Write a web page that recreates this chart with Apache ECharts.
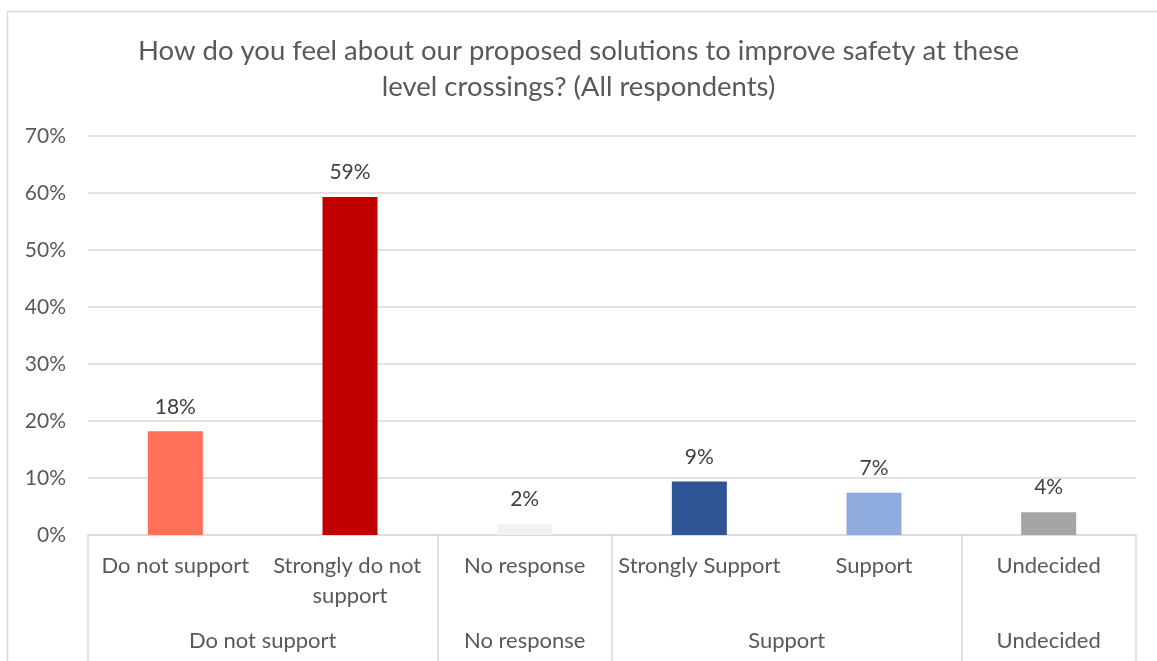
<!DOCTYPE html>
<html>
<head>
<meta charset="utf-8">
<script src="https://cdn.jsdelivr.net/npm/echarts@6/dist/echarts.min.js"></script>
<style>
html,body{margin:0;padding:0;background:#fff;}
#c{width:1157px;height:661px;}
</style>
</head>
<body>
<div id="c"></div>
<script>
var titleText = 'How do you feel about our proposed solutions to improve safety at these\nlevel crossings? (All respondents)';
var categories = ['Do not support', 'Strongly do not support', 'No response', 'Strongly Support', 'Support', 'Undecided'];
var values = [18.2, 59.3, 1.9, 9.4, 7.4, 4.0];
var barColors = ['#FF7058', '#C00000', '#F2F2F2', '#2F5597', '#8FAADC', '#A5A5A5'];
var groups = ['Do not support', 'No response', 'Support', 'Undecided'];
var groupSizes = [2, 1, 2, 1];
var yTicks = [0, 10, 20, 30, 40, 50, 60, 70];

var FONT = 'Lato';
var TXT = '#595959';
var LINE = '#D9D9D9';

var tickPos = [0], labelPos = [], acc = 0;
groupSizes.forEach(function (s) { labelPos.push(acc + s / 2); acc += s; tickPos.push(acc); });

var chart = echarts.init(document.getElementById('c'), null, {renderer: 'canvas'});
chart.setOption({
  backgroundColor: '#fff',
  animation: false,
  graphic: [{
    type: 'polyline', silent: true,
    shape: {points: [[7.5, 700], [7.5, 11.5], [1200, 11.5]]},
    style: {stroke: LINE, lineWidth: 1.5, fill: null}
  }],
  title: {
    text: titleText, left: 'center', top: 28,
    textStyle: {fontFamily: FONT, fontSize: 27.5, fontWeight: 'normal', color: TXT, lineHeight: 36}
  },
  grid: {left: 88, right: 21, top: 136, bottom: 126, containLabel: false},
  xAxis: [{
    type: 'category', data: categories, position: 'bottom',
    axisLine: {show: true, lineStyle: {color: LINE, width: 1.5}},
    axisTick: {show: false},
    axisLabel: {
      interval: 0, margin: 16, color: TXT, fontFamily: FONT, fontSize: 22, lineHeight: 30,
      width: 168, overflow: 'break', align: 'center'
    }
  }, {
    type: 'value', min: 0, max: acc, position: 'bottom',
    splitLine: {show: false},
    axisLine: {show: false},
    axisTick: {show: true, customValues: tickPos, length: 126, lineStyle: {color: LINE, width: 1.5}},
    axisLabel: {
      show: true, customValues: labelPos, margin: 95, color: TXT, fontFamily: FONT, fontSize: 22,
      formatter: function (v) { return groups[labelPos.indexOf(v)]; }
    }
  }],
  yAxis: {
    type: 'value', min: yTicks[0], max: yTicks[yTicks.length - 1], interval: 10,
    axisLine: {show: false}, axisTick: {show: false},
    axisLabel: {formatter: '{value}%', color: TXT, fontFamily: FONT, fontSize: 21, margin: 22},
    splitLine: {lineStyle: {color: LINE, width: 1.5}}
  },
  series: [{
    type: 'bar', xAxisIndex: 0,
    data: values.map(function (v, i) { return {value: v, itemStyle: {color: barColors[i]}}; }),
    barWidth: 55,
    label: {
      show: true, position: 'top', distance: 14, color: '#404040', fontFamily: FONT, fontSize: 21,
      formatter: function (p) { return Math.round(p.value) + '%'; }
    }
  }]
});
</script>
</body>
</html>
